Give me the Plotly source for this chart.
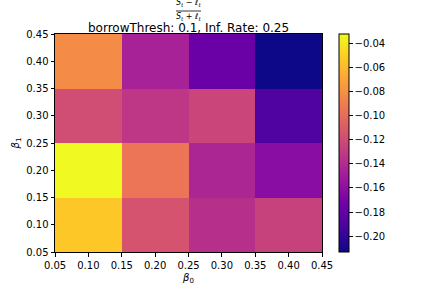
import plotly.graph_objects as go

# grid of parameters and the resulting values (rows = beta_1, cols = beta_0)
beta0 = [0.1, 0.2, 0.3, 0.4]
beta1 = [0.1, 0.2, 0.3, 0.4]
row_b1_01 = [-0.054, -0.115, -0.137, -0.126]
row_b1_02 = [-0.0325, -0.095, -0.144, -0.162]
row_b1_03 = [-0.119, -0.133, -0.124, -0.188]
row_b1_04 = [-0.083, -0.146, -0.177, -0.213]
z = [row_b1_01, row_b1_02, row_b1_03, row_b1_04]

tick_vals = [0.05, 0.10, 0.15, 0.20, 0.25, 0.30, 0.35, 0.40, 0.45]
cbar_ticks = [-0.04, -0.06, -0.08, -0.10, -0.12, -0.14, -0.16, -0.18, -0.20]

W, H = 432, 288
L, R, T, B = 55, 110, 34, 36
pw, ph = W - L - R, H - T - B


def px_x(p):
    return (p - L) / pw


def px_y(p):
    return 1 + (T - p) / ph


fig = go.Figure(go.Heatmap(
    x=beta0, y=beta1, z=z,
    colorscale='Plasma',
    colorbar=dict(
        x=px_x(339), xanchor='left', y=0.5, yanchor='middle',
        len=1.0, lenmode='fraction', thickness=10, thicknessmode='pixels',
        outlinecolor='black', outlinewidth=1,
        tickvals=cbar_ticks, ticktext=['\u2212%.2f' % abs(v) for v in cbar_ticks],
        ticks='outside', ticklen=3.5, tickcolor='black',
        tickfont=dict(size=10, color='black'),
        xpad=0, ypad=0,
    ),
))

axis = dict(
    range=[0.05, 0.45], tickvals=tick_vals, ticktext=['%.2f' % v for v in tick_vals],
    ticks='outside', ticklen=3.5, tickcolor='black',
    showline=True, linecolor='black', linewidth=1, mirror=True,
    showgrid=False, zeroline=False, tickfont=dict(size=10, color='black'),
)
fig.update_xaxes(**axis, title=dict(text='<i>β</i><sub>0</sub>', font=dict(size=10), standoff=4))
fig.update_yaxes(**axis, title=dict(text='<i>β</i><sub>1</sub>', font=dict(size=10), standoff=4))

# title: fraction on top, then the run parameters
fig.add_annotation(text='<i>S<sub>t</sub></i> \u2212 <i>ℓ<sub>t</sub></i>', x=0.5, y=px_y(3),
                   yanchor='middle', xref='paper', yref='paper', showarrow=False, font=dict(size=8))
fig.add_annotation(text='<i>S<sub>t</sub></i> + <i>ℓ<sub>t</sub></i>', x=0.5, y=px_y(17),
                   yanchor='middle', xref='paper', yref='paper', showarrow=False, font=dict(size=8))
fig.add_shape(type='line', xref='paper', yref='paper', x0=px_x(176), x1=px_x(201),
              y0=px_y(11), y1=px_y(11), line=dict(color='black', width=0.8))
fig.add_annotation(text='borrowThresh: 0.1, Inf. Rate: 0.25', x=0.5, y=px_y(28),
                   yanchor='middle', xref='paper', yref='paper', showarrow=False, font=dict(size=12))

fig.update_layout(
    width=W, height=H, margin=dict(l=L, r=R, t=T, b=B, autoexpand=False),
    paper_bgcolor='white', plot_bgcolor='white',
    font=dict(family='DejaVu Sans', color='black'),
)
# drop the default page margin so the figure sits at the window's corner
fig.write_html('out.html', config={'displayModeBar': False},
               post_script="document.body.style.margin='0';")
